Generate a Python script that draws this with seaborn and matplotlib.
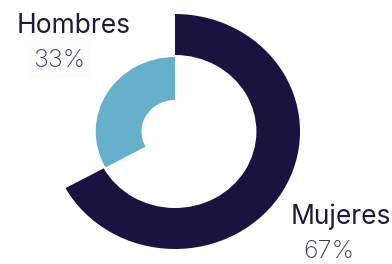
import matplotlib
matplotlib.use("Agg")
import matplotlib.pyplot as plt
import seaborn as sns

# data
labels = ["Mujeres", "Hombres"]
shares = [67, 33]
pct_labels = ["67%", "33%"]
colors = ["#1a1340", "#66b0cb"]

sns.set_theme(style="white")
plt.rcParams['font.family'] = ['Inter', 'DejaVu Sans']

W, H = 392, 264
fig = plt.figure(figsize=(W / 100, H / 100), dpi=100)
ax = fig.add_axes([0, 0, 1, 1])

# picture is slightly stretched horizontally
sx = 1.064
cx, cy = 175 / sx, H - 131.5

# outer ring: Mujeres, clockwise from 12 o'clock
ax.pie([shares[0], shares[1]], colors=[colors[0], "none"], startangle=90,
       counterclock=False, radius=117.5, center=(cx, cy),
       wedgeprops=dict(width=41, linewidth=0))
# inner ring: Hombres, counter-clockwise from 12 o'clock
ax.pie([shares[1], shares[0]], colors=[colors[1], "none"], startangle=90,
       counterclock=True, radius=74.5, center=(cx, cy),
       wedgeprops=dict(width=43, linewidth=0))

ax.set_aspect("auto")
ax.set_xlim(0, W / sx)
ax.set_ylim(0, H)
ax.axis("off")

def px(x, y):
    return x / W, 1 - y / H

fig.text(*px(17, 33), labels[1], fontsize=19, color="#1e1b3a", va="baseline")
fig.text(*px(33, 67), pct_labels[1], fontsize=18, color="#3d3b5e",
         fontweight="light", va="baseline",
         bbox=dict(facecolor="#fcfcfc", edgecolor="none", pad=4))
fig.text(*px(291, 224), labels[0], fontsize=19, color="#1e1b3a", va="baseline")
fig.text(*px(303, 258), pct_labels[0], fontsize=18, color="#3d3b5e",
         fontweight="light", va="baseline")

fig.savefig("out.png", dpi=100)
